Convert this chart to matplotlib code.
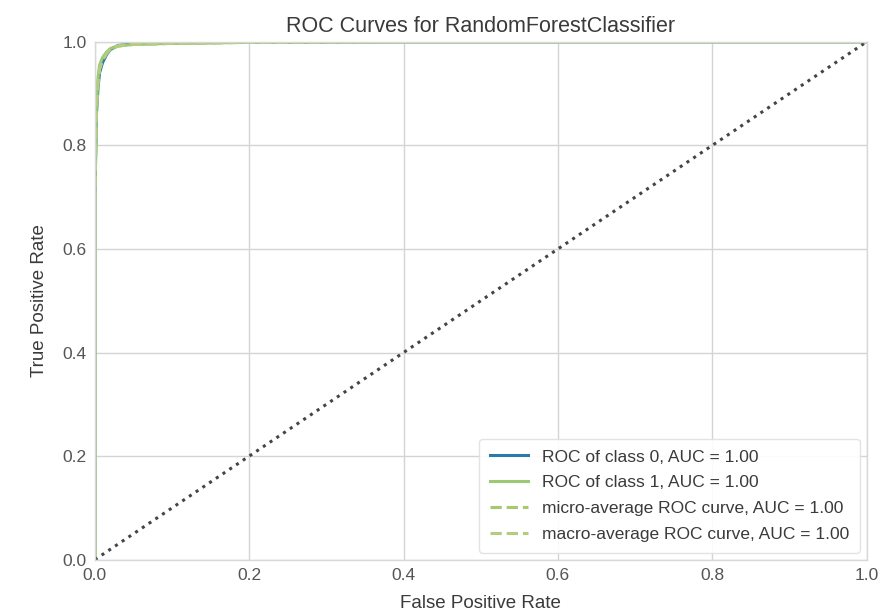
import numpy as np
import matplotlib
matplotlib.use("Agg")
import matplotlib.pyplot as plt

plt.rcParams.update({
    "font.family": ["Liberation Sans", "DejaVu Sans"],
    "axes.edgecolor": "#d8d8d8",
    "axes.linewidth": 1.0,
    "text.color": "#3a3a3a",
    "axes.labelcolor": "#3a3a3a",
    "xtick.color": "#555555",
    "ytick.color": "#555555",
})

# ROC points
fpr_0 = [0.0, 0.0, 0.002, 0.004, 0.006, 0.01, 0.015, 0.02, 0.03, 0.05, 0.1, 0.2, 0.4, 1.0]
tpr_0 = [0.0, 0.70, 0.86, 0.91, 0.94, 0.96, 0.975, 0.985, 0.993, 0.996, 0.998, 0.999, 1.0, 1.0]
fpr_1 = [0.0, 0.0, 0.002, 0.004, 0.006, 0.01, 0.015, 0.02, 0.03, 0.05, 0.1, 0.2, 0.4, 1.0]
tpr_1 = [0.0, 0.72, 0.88, 0.93, 0.955, 0.97, 0.98, 0.987, 0.992, 0.995, 0.997, 0.999, 1.0, 1.0]
fpr_micro = [0.0, 0.0, 0.002, 0.004, 0.006, 0.01, 0.015, 0.02, 0.03, 0.05, 0.1, 0.2, 0.4, 1.0]
tpr_micro = [0.0, 0.71, 0.87, 0.92, 0.948, 0.965, 0.978, 0.986, 0.992, 0.995, 0.997, 0.999, 1.0, 1.0]
fpr_macro = fpr_micro
tpr_macro = [0.0, 0.71, 0.87, 0.92, 0.947, 0.965, 0.977, 0.986, 0.992, 0.995, 0.997, 0.999, 1.0, 1.0]

labels = [
    "ROC of class 0, AUC = 1.00",
    "ROC of class 1, AUC = 1.00",
    "micro-average ROC curve, AUC = 1.00",
    "macro-average ROC curve, AUC = 1.00",
]
ticks = [0.0, 0.2, 0.4, 0.6, 0.8, 1.0]

fig, ax = plt.subplots(figsize=(8.87, 6.15), dpi=100)
fig.subplots_adjust(left=0.107, right=0.977, top=0.932, bottom=0.09)

ax.grid(True, color="#d4d4d4", linewidth=1.0)
ax.set_axisbelow(True)

ax.plot(fpr_0, tpr_0, color="#2c7ba6", linewidth=2.2, label=labels[0])
ax.plot(fpr_1, tpr_1, color="#9acb72", linewidth=2.2, label=labels[1])
ax.plot(fpr_micro, tpr_micro, color="#a7c86c", linewidth=2.2,
        linestyle="--", label=labels[2])
ax.plot(fpr_macro, tpr_macro, color="#b4cc82", linewidth=2.2,
        linestyle="--", label=labels[3])
ax.plot([0, 1], [0, 1], color="#444444", linestyle=":", linewidth=2.2)

ax.set_xlim(0, 1)
ax.set_ylim(0, 1)
ax.set_xticks(ticks)
ax.set_yticks(ticks)
ax.tick_params(length=0, labelsize=12.5, pad=6)
ax.set_xlabel("False Positive Rate", fontsize=13.5, labelpad=9)
ax.set_ylabel("True Positive Rate", fontsize=13.5, labelpad=10)
ax.set_title("ROC Curves for RandomForestClassifier", fontsize=15.5, pad=7)

leg = ax.legend(loc="lower right", frameon=True, fontsize=12.5,
                borderpad=0.6, handlelength=2.2, labelspacing=0.62,
                borderaxespad=0.4)
leg.get_frame().set_edgecolor("#e0e0e0")
leg.get_frame().set_facecolor("white")
leg.get_frame().set_alpha(0.9)

fig.savefig("out.png", dpi=100)
